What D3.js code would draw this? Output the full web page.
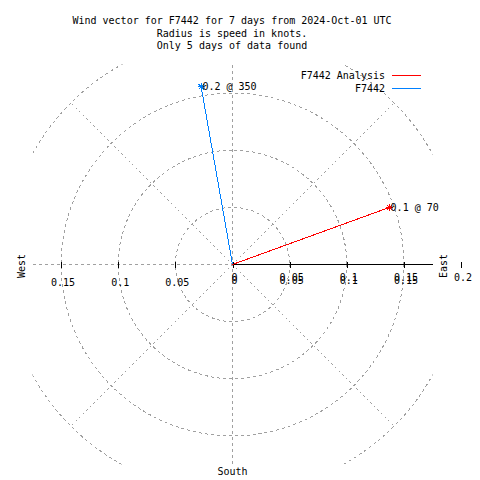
<!DOCTYPE html>
<html><head><meta charset="utf-8">
<script src="https://cdn.jsdelivr.net/npm/d3@7"></script>
<style>
html,body{margin:0;padding:0;background:#fff;}
svg{display:block;}
text{font-family:"DejaVu Sans Mono",monospace;font-size:10px;fill:#000;}
</style></head>
<body>
<script>
// ---- data ----
const titleLines = ["Wind vector for F7442 for 7 days from 2024-Oct-01 UTC",
                    "Radius is speed in knots.",
                    "Only 5 days of data found"];
const seriesNames = ["F7442 Analysis", "F7442"];
const speeds = [0.146, 0.158];        // knots
const directions = [70, 350];         // degrees, compass
const ringTicks = [0.05, 0.1, 0.15, 0.2];
const spokeAngles = [45, 135, 225, 315];
const westTicks = [-0.15, -0.1, -0.05];
const eastTicks = [0, 0.05, 0.1, 0.15, 0.2];
const eastTicks2 = [0, 0.05, 0.1, 0.15];
const compassLabels = ["West", "East", "South"];

// ---- layout ----
const W = 480, H = 480;
const cx = 232.5, cy = 264.5, half = 200, rMax = 0.175;
const colors = ["#ff0000", "#0080ff"];
const gridColor = "#a0a0a0";

const svg = d3.select("body").append("svg").attr("width", W).attr("height", H);
svg.append("rect").attr("width", W).attr("height", H).attr("fill", "#fff");

const x = d3.scaleLinear().domain([-rMax, rMax]).range([cx - half, cx + half]);
const y = d3.scaleLinear().domain([-rMax, rMax]).range([cy + half, cy - half]);
const r = d3.scaleLinear().domain([0, rMax]).range([0, half]);

svg.append("clipPath").attr("id", "plotclip").append("rect")
  .attr("x", cx - half).attr("y", cy - half).attr("width", 2 * half).attr("height", 2 * half);

const grid = svg.append("g").attr("clip-path", "url(#plotclip)")
  .attr("fill", "none").attr("stroke", gridColor).attr("stroke-width", 1)
  .attr("stroke-dasharray", "3,3").attr("shape-rendering", "crispEdges");

grid.selectAll("circle").data(ringTicks).join("circle")
  .attr("cx", x(0)).attr("cy", y(0)).attr("r", d => r(d));

grid.selectAll("line.spoke").data(spokeAngles).join("line").attr("class", "spoke")
  .attr("stroke-dasharray", "2,3")
  .attr("x1", x(0)).attr("y1", y(0))
  .attr("x2", d => x(ringTicks[ringTicks.length - 1] * Math.sin(d * Math.PI / 180)))
  .attr("y2", d => y(ringTicks[ringTicks.length - 1] * Math.cos(d * Math.PI / 180)));

grid.append("line").attr("x1", x(-rMax)).attr("x2", x(rMax)).attr("y1", y(0)).attr("y2", y(0));
grid.append("line").attr("x1", x(0)).attr("x2", x(0)).attr("y1", y(rMax)).attr("y2", y(-rMax));

// solid east axis
svg.append("line").attr("x1", x(0)).attr("x2", x(rMax)).attr("y1", y(0)).attr("y2", y(0))
  .attr("stroke", "#000").attr("stroke-width", 1).attr("shape-rendering", "crispEdges");

const fmtTick = d => d3.format("~g")(Math.abs(d));

function tickAxis(vals, baseline, withTicks) {
  const g = svg.append("g").attr("transform", `translate(0,${y(0) - 3})`)
    .call(d3.axisBottom(x).tickValues(vals).tickSize(6).tickFormat(fmtTick));
  g.select(".domain").remove();
  g.selectAll(".tick line").attr("stroke", "#000").attr("opacity", withTicks ? 1 : 0)
    .attr("shape-rendering", "crispEdges");
  g.selectAll(".tick text").attr("y", baseline - (y(0) - 3)).attr("dy", null).attr("dx", 1.5)
    .attr("fill", "#000").style("font-family", '"DejaVu Sans Mono",monospace').style("font-size", "10px");
  g.attr("font-family", null).attr("font-size", null);
  return g;
}
tickAxis(westTicks, 285.7, true);
tickAxis(eastTicks, 281, true);
tickAxis(eastTicks2, 283.5, false);

// compass labels
svg.append("text").text(compassLabels[0]).attr("text-anchor", "middle").attr("dominant-baseline", "central")
  .attr("transform", `translate(21,266) rotate(-90)`);
svg.append("text").text(compassLabels[1]).attr("text-anchor", "middle").attr("dominant-baseline", "central")
  .attr("transform", `translate(443.5,266) rotate(-90)`);
svg.append("text").text(compassLabels[2]).attr("text-anchor", "middle")
  .attr("x", x(0)).attr("y", 474.5);

// title
svg.append("g").selectAll("text").data(titleLines).join("text")
  .attr("x", 232).attr("y", (d, i) => 24.3 + i * 12.3).attr("text-anchor", "middle").text(d => d);

// vectors
const fmtV = d3.format(".1f");
const vec = svg.append("g").attr("shape-rendering", "crispEdges");
speeds.forEach((s, i) => {
  const a = directions[i] * Math.PI / 180;
  const px = x(s * Math.sin(a)), py = y(s * Math.cos(a));
  vec.append("line").attr("x1", x(0)).attr("y1", y(0)).attr("x2", px).attr("y2", py)
    .attr("stroke", colors[i]).attr("stroke-width", 1);
  const m = 3.4;
  const star = d3.path();
  star.moveTo(px - m, py); star.lineTo(px + m, py);
  star.moveTo(px, py - m); star.lineTo(px, py + m);
  star.moveTo(px - m * 0.8, py - m * 0.8); star.lineTo(px + m * 0.8, py + m * 0.8);
  star.moveTo(px - m * 0.8, py + m * 0.8); star.lineTo(px + m * 0.8, py - m * 0.8);
  vec.append("path").attr("d", star.toString()).attr("stroke", colors[i]).attr("fill", "none");
  vec.append("text").attr("x", px + 1.3).attr("y", py + 3.2)
    .text(`${fmtV(s)} @ ${directions[i]}`);
});

// legend
const leg = svg.append("g");
seriesNames.forEach((n, i) => {
  const yy = 75.5 + i * 13;
  leg.append("text").attr("x", 385).attr("y", yy + 3.7).attr("text-anchor", "end").text(n);
  leg.append("line").attr("x1", 392).attr("x2", 421).attr("y1", yy).attr("y2", yy)
    .attr("stroke", colors[i]).attr("stroke-width", 1).attr("shape-rendering", "crispEdges");
});
</script>
</body></html>
